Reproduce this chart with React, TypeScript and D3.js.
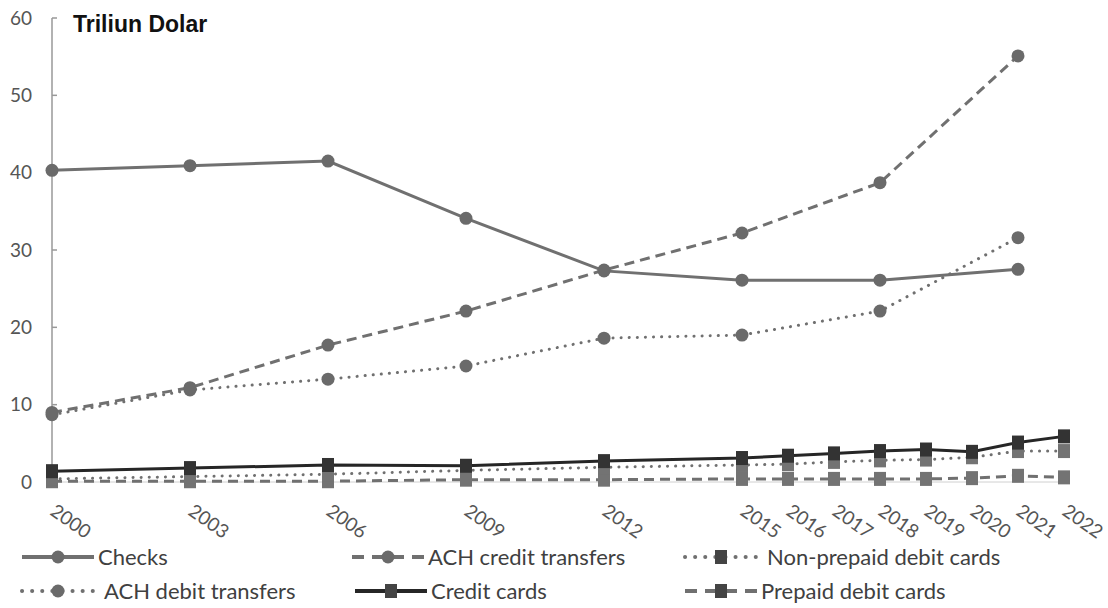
import React from 'react';
import * as d3 from 'd3';

// years on the x axis (linear time)
const years = [2000, 2003, 2006, 2009, 2012, 2015, 2016, 2017, 2018, 2019, 2020, 2021, 2022];
const yearsMajor = [2000, 2003, 2006, 2009, 2012, 2015, 2018, 2021];

const checks = [40.3, 40.9, 41.5, 34.1, 27.3, 26.1, 26.1, 27.5];
const achCredit = [9.0, 12.2, 17.7, 22.1, 27.4, 32.2, 38.7, 55.1];
const achDebit = [8.7, 11.9, 13.3, 15.0, 18.6, 19.0, 22.1, 31.6];
const creditCards = [1.4, 1.8, 2.2, 2.1, 2.7, 3.1, 3.4, 3.7, 4.0, 4.2, 3.9, 5.1, 5.9];
const nonPrepaidDebit = [0.4, 0.7, 1.0, 1.5, 1.9, 2.2, 2.3, 2.6, 2.8, 2.9, 3.2, 4.0, 4.0];
const prepaidDebit = [0.1, 0.1, 0.1, 0.3, 0.3, 0.4, 0.4, 0.4, 0.4, 0.4, 0.5, 0.8, 0.6];

const yTicks = [0, 10, 20, 30, 40, 50, 60];

const GRAY = '#707070';
const DARK = '#262626';
const FONT = 'Lato, "Open Sans", sans-serif';

type Series = {
  name: string;
  xs: number[];
  ys: number[];
  color: string;
  dash: string;
  marker: 'circle' | 'square';
  markerColor: string;
};

const series: Series[] = [
  { name: 'Prepaid debit cards', xs: years, ys: prepaidDebit, color: GRAY, dash: '10 6', marker: 'square', markerColor: '#737373' },
  { name: 'Non-prepaid debit cards', xs: years, ys: nonPrepaidDebit, color: GRAY, dash: '0.1 8', marker: 'square', markerColor: '#737373' },
  { name: 'Credit cards', xs: years, ys: creditCards, color: DARK, dash: '', marker: 'square', markerColor: '#333' },
  { name: 'ACH debit transfers', xs: yearsMajor, ys: achDebit, color: GRAY, dash: '0.1 8', marker: 'circle', markerColor: '#6a6a6a' },
  { name: 'ACH credit transfers', xs: yearsMajor, ys: achCredit, color: GRAY, dash: '10 6', marker: 'circle', markerColor: '#6a6a6a' },
  { name: 'Checks', xs: yearsMajor, ys: checks, color: GRAY, dash: '', marker: 'circle', markerColor: '#6a6a6a' },
];

const legendOrder = [
  { s: 'Checks', x: 22, y: 557 },
  { s: 'ACH credit transfers', x: 352, y: 557 },
  { s: 'Non-prepaid debit cards', x: 685, y: 557 },
  { s: 'ACH debit transfers', x: 22, y: 591 },
  { s: 'Credit cards', x: 355, y: 591 },
  { s: 'Prepaid debit cards', x: 685, y: 591 },
];

const Marker = ({ kind, x, y, color }: { kind: string; x: number; y: number; color: string }) =>
  kind === 'circle' ? (
    <circle cx={x} cy={y} r={6.5} fill={color} />
  ) : (
    <rect x={x - 6} y={y - 7} width={12} height={14} fill={color} />
  );

export default function App() {
  const width = 1108;
  const height = 608;
  const x = d3.scaleLinear().domain([2000, 2022]).range([52, 1064]);
  const y = d3.scaleLinear().domain([0, 60]).range([482, 18]);

  const line = (xs: number[], ys: number[]) =>
    d3.line<number>()
      .x((_, i) => x(xs[i]))
      .y((d) => y(d))(ys) || '';

  return (
    <svg width={width} height={height} style={{ position: 'absolute', left: 0, top: 0, background: '#fff' }}>
      {/* y axis */}
      <line x1={52} x2={52} y1={y(60)} y2={y(0)} stroke="#999" strokeWidth={1.5} />
      <line x1={52} x2={1064} y1={y(0)} y2={y(0)} stroke="#d0d0d0" strokeWidth={1} />
      {yTicks.map((t) => (
        <g key={t}>
          <line x1={52} x2={57} y1={y(t)} y2={y(t)} stroke="#999" strokeWidth={1.5} />
          <text x={32} y={y(t)} dy="0.35em" textAnchor="end" fontFamily={FONT} fontSize={19} fill="#555">
            {t}
          </text>
        </g>
      ))}
      <text x={73} y={32} fontFamily='"Liberation Sans", Arial, sans-serif' fontWeight="bold" fontSize={23} fill="#111">
        Triliun Dolar
      </text>

      {/* x labels */}
      {years.map((yr) => (
        <text
          key={yr}
          transform={`translate(${x(yr) - 3},${514}) rotate(35)`}
          fontFamily={FONT}
          fontSize={19}
          fill="#555"
        >
          {yr}
        </text>
      ))}

      {/* lines */}
      {series.map((s) => (
        <path
          key={s.name}
          d={line(s.xs, s.ys)}
          fill="none"
          stroke={s.color}
          strokeWidth={3}
          strokeDasharray={s.dash || undefined}
          strokeLinecap={s.dash.startsWith('0.1') ? 'round' : 'butt'}
        />
      ))}
      {series.map((s) =>
        s.ys.map((v, i) => (
          <Marker key={s.name + i} kind={s.marker} x={x(s.xs[i])} y={y(v)} color={s.markerColor} />
        ))
      )}

      {/* legend */}
      {legendOrder.map((l) => {
        const s = series.find((d) => d.name === l.s)!;
        const x0 = l.x;
        const x1 = l.x + 72;
        const mx = (x0 + x1) / 2;
        return (
          <g key={l.s}>
            <line
              x1={x0}
              x2={x1}
              y1={l.y}
              y2={l.y}
              stroke={s.color}
              strokeWidth={4}
              strokeDasharray={s.dash ? (s.dash.startsWith('0.1') ? '0.1 10' : '12 8') : undefined}
              strokeLinecap={s.dash.startsWith('0.1') ? 'round' : 'butt'}
            />
            <Marker kind={s.marker} x={mx} y={l.y} color={s.marker === 'square' ? '#444' : s.markerColor} />
            <text x={x1 + (s.dash.startsWith('0.1') ? 10 : 4)} y={l.y} dy="0.35em" fontFamily={FONT} fontSize={22} fill="#404040">
              {s.name}
            </text>
          </g>
        );
      })}
    </svg>
  );
}
